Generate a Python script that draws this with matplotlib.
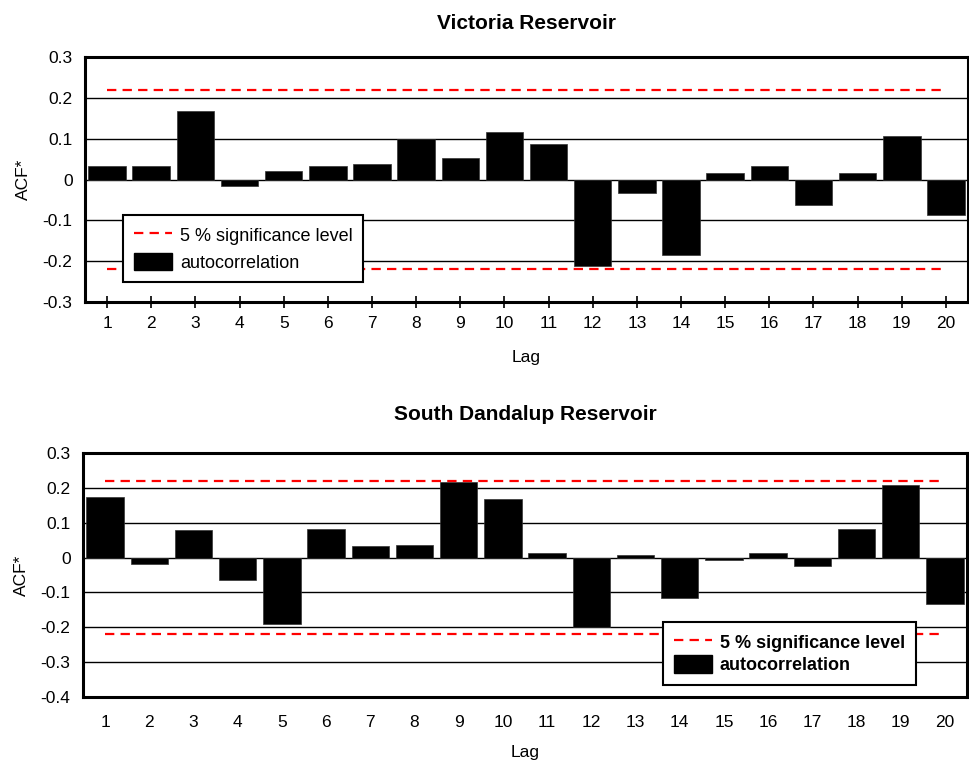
import matplotlib
matplotlib.use("Agg")
import matplotlib.pyplot as plt
from matplotlib.patches import Patch
from matplotlib.lines import Line2D

plt.rcParams['font.family'] = ['Liberation Sans', 'DejaVu Sans']

lags = list(range(1, 21))

victoria_acf = [0.032, 0.032, 0.167, -0.016, 0.021, 0.032, 0.037, 0.098, 0.052, 0.117,
                0.087, -0.212, -0.032, -0.184, 0.017, 0.032, -0.062, 0.017, 0.107, -0.087]
victoria_sig = 0.218

dandalup_acf = [0.175, -0.019, 0.078, -0.065, -0.191, 0.083, 0.032, 0.037, 0.216, 0.168,
                0.014, -0.200, 0.008, -0.116, -0.008, 0.013, -0.025, 0.083, 0.208, -0.133]
dandalup_sig = 0.220

victoria_yticks = [0.3, 0.2, 0.1, 0, -0.1, -0.2, -0.3]
dandalup_yticks = [0.3, 0.2, 0.1, 0, -0.1, -0.2, -0.3, -0.4]

legend_labels = ["5 % significance level", "autocorrelation"]


def fmt(v):
    return "0" if v == 0 else f"{v:.1f}"


W, H = 969, 765
fig = plt.figure(figsize=(W / 100, H / 100), dpi=100)

TICK_FS = 12.5
LEG_FS = 13
TITLE_FS = 15


def px_axes(left, top, right, bottom):
    return fig.add_axes([left / W, 1 - bottom / H, (right - left) / W, (bottom - top) / H])


def draw_panel(ax, acf, sig, yticks, title, title_pad, xticks_marks, xpad, lag_pad,
               legend_pos, legend_bold, legend_spacing):
    ymin, ymax = min(yticks), max(yticks)
    ax.set_xlim(0.5, 20.5)
    ax.set_ylim(ymin, ymax)
    for yv in yticks:
        ax.axhline(yv, color='black', lw=1.0, zorder=1)
    ax.bar(lags, acf, width=0.85, color='black', edgecolor='#333333', lw=0.5, zorder=2)
    dash = dict(color='#ff0000', lw=1.6, dashes=(4.2, 2.8), zorder=3)
    ax.plot([lags[0], lags[-1]], [sig, sig], **dash)
    ax.plot([lags[0], lags[-1]], [-sig, -sig], **dash)

    ax.set_yticks(yticks)
    ax.set_yticklabels([fmt(v) for v in yticks], fontsize=TICK_FS)
    ax.tick_params(axis='y', length=0, pad=9)
    ax.set_xticks(lags)
    ax.set_xticklabels([str(l) for l in lags], fontsize=TICK_FS)
    if xticks_marks:
        ax.tick_params(axis='x', direction='inout', length=9, width=1.2, pad=xpad)
    else:
        ax.tick_params(axis='x', length=0, pad=xpad)
    for s in ax.spines.values():
        s.set_linewidth(2.2)
        s.set_zorder(5)
    ax.set_xlabel("Lag", fontsize=TICK_FS, labelpad=lag_pad)
    ax.set_ylabel("ACF*", fontsize=TICK_FS, labelpad=8)
    ax.set_title(title, fontsize=TITLE_FS, fontweight='bold', pad=title_pad)

    handles = [Line2D([0], [0], color='#ff0000', lw=1.6, dashes=(4.2, 2.8)),
               Patch(facecolor='black', edgecolor='black')]
    leg = ax.legend(handles, legend_labels, loc='upper left', bbox_to_anchor=legend_pos,
                    bbox_transform=fig.transFigure,
                    prop={'weight': 'bold' if legend_bold else 'normal', 'size': LEG_FS},
                    fancybox=False, framealpha=1, edgecolor='black',
                    handlelength=2.1, handleheight=1.1, handletextpad=0.45,
                    borderpad=0.6, labelspacing=legend_spacing, borderaxespad=0)
    leg.get_frame().set_linewidth(1.5)
    leg.set_zorder(10)


ax1 = px_axes(85, 57, 968, 302)
draw_panel(ax1, victoria_acf, victoria_sig, victoria_yticks, "Victoria Reservoir", 20,
           True, 5.5, 14, (123 / W, 1 - 215 / H), False, 0.45)

ax2 = px_axes(83, 453, 967, 697)
draw_panel(ax2, dandalup_acf, dandalup_sig, dandalup_yticks, "South Dandalup Reservoir", 24,
           False, 13, 11, (663 / W, 1 - 622 / H), True, 0.2)

fig.savefig("out.png", dpi=100)
